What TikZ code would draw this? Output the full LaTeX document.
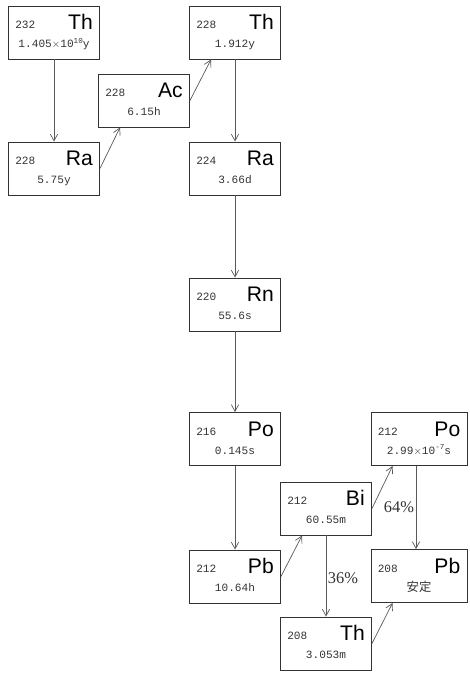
\documentclass[tikz,border=0pt]{standalone}
\usepackage{fontspec}
\newfontfamily\elemfont{Liberation Sans}
\newfontfamily\numfont{Liberation Mono}
\newfontfamily\pctfont{Liberation Serif}
\newfontfamily\cjkfont{Noto Sans CJK JP}
\usetikzlibrary{arrows.meta}
\def\expo#1{\raisebox{0.75ex}{\fontsize{6.5}{6.5}\selectfont #1}}
\def\nuclide[#1](#2)(#3)(#4:#5:#6){%
	\node[nucbox,#1] (#2) at (#3) {};
	\node[massnum] (#2-m) at ([shift={(7,23)}]#2.north west) {#4};
	\node[elemsym] (#2-s) at ([shift={(-7,24)}]#2.north east) {#5};
	\node[halflife] (#2-t) at ([shift={(0,42)}]#2.north) {#6};
}

\begin{document}
\begin{tikzpicture}[x=0.03cm, y=-0.03cm,
	nucbox/.style={draw=black!80, line width=0.8pt, minimum width=2.73cm, minimum height=1.59cm, inner sep=0pt},
	massnum/.style={anchor=base west, inner sep=0pt, text=black!80, font=\numfont\fontsize{9.5}{9.5}\selectfont},
	elemsym/.style={anchor=base east, inner sep=0pt, font=\elemfont\fontsize{18}{18}\selectfont},
	halflife/.style={anchor=base, inner sep=0pt, text=black!80, font=\numfont\fontsize{9.5}{9.5}\selectfont},
	pct/.style={inner sep=0pt, text=black!80, font=\pctfont\fontsize{14}{14}\selectfont},
	decay/.style={draw=black!65, line width=0.6pt, -{Straight Barb[length=2mm, width=2.2mm]}}]
		%%%%% START %%%%%
		\useasboundingbox (0,0) rectangle (469,673);
		
		\nuclide[](th232)(54,32.5)(232:Th:1.405$\times$10\expo{10}y)
		\nuclide[](ra228)(54,168.5)(228:Ra:5.75y)
		\nuclide[](ac228)(144,100.5)(228:Ac:6.15h)
		\nuclide[](th228)(235,32.5)(228:Th:1.912y)
		\nuclide[](ra224)(235,168.5)(224:Ra:3.66d)
		\nuclide[](rn220)(235,304.5)(220:Rn:55.6s)
		\nuclide[](po216)(235,439)(216:Po:0.145s)
		\nuclide[](pb212)(235,576.5)(212:Pb:10.64h)
		\nuclide[](bi212)(326,508.5)(212:Bi:60.55m)
		\nuclide[minimum width=2.88cm](po212)(419,439)(212:Po:2.99$\times$10\expo{-7}s)
		\nuclide[minimum width=2.88cm](pb208)(419,576)(208:Pb:{\cjkfont\fontsize{10.5}{10.5}\selectfont 安定})
		\nuclide[](th208)(326,643.5)(208:Th:3.053m)
		
		\draw[decay] (th232.south) -- (ra228.north);
		\draw[decay] (ra228.east) -- ([shift={(22,0)}]ac228.south west);
		\draw[decay] (ac228.east) -- ([shift={(22,0)}]th228.south west);
		\draw[decay] (th228.south) -- (ra224.north);
		\draw[decay] (ra224.south) -- (rn220.north);
		\draw[decay] (rn220.south) -- (po216.north);
		\draw[decay] (po216.south) -- (pb212.north);
		\draw[decay] (pb212.east) -- ([shift={(22,0)}]bi212.south west);
		\draw[decay] (bi212.east) -- ([shift={(22,0)}]po212.south west);
		\draw[decay] ([shift={(-3,0)}]po212.south) -- ([shift={(-3,0)}]pb208.north);
		\draw[decay] (bi212.south) -- (th208.north);
		\draw[decay] (th208.east) -- ([shift={(22,0)}]pb208.south west);
		
		\node[pct] (p64) at (399,507) {64\%};
		\node[pct] (p36) at (343,578) {36\%};
		%%%%% END %%%%%
	\end{tikzpicture}
\end{document}
